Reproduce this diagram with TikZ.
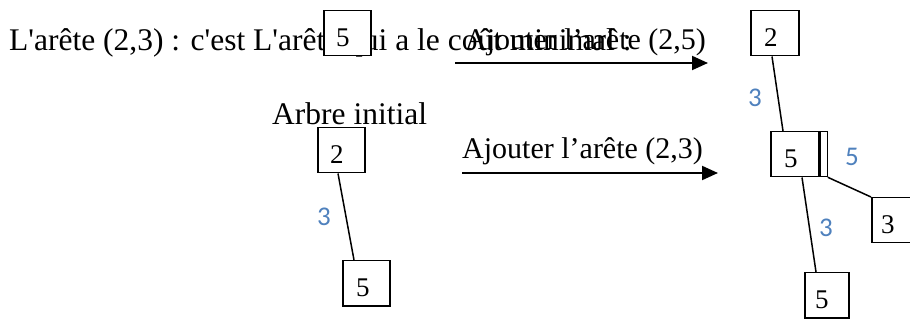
\documentclass[tikz,border=0pt]{standalone}
\usepackage{fontspec}
\setmainfont{Liberation Serif}[Ligatures=TeXOff]
\newfontfamily\calib{Carlito}
\usetikzlibrary{arrows.meta}
\definecolor{lblblue}{RGB}{79,129,189}
\begin{document}
\begin{tikzpicture}[x=1pt,y=-1pt,
  box/.style={draw, line width=1.5pt, fill=white, minimum width=#1, minimum height=45pt, inner sep=0pt, anchor=north west},
  box/.default=47pt,
  num/.style={font=\fontsize{27}{27}\selectfont, inner sep=0pt, anchor=base west},
  txt/.style={font=\fontsize{31.5}{36}\selectfont, inner sep=0pt, anchor=base west},
  lbl/.style={font=\fontsize{30}{36}\selectfont, inner sep=0pt, anchor=base west},
  wt/.style={font=\calib\fontsize{27}{27}\selectfont, text=lblblue, inner sep=0pt},
  edgeline/.style={line width=1.5pt},
  arr/.style={line width=2pt, -{Triangle[length=16pt,width=14pt]}}]
\useasboundingbox (0,0) rectangle (910,320);
\clip (0,0) rectangle (910,320);
% top sentence and arrow
\node[txt] (sent) at (9,51) {L'arête (2,3) : c'est L'arête qui a le coût minimal :};
\node[lbl] (lab1) at (465,50) {Ajouter l’arête (2,5)};
\coordinate (a1s) at (455,63);
\coordinate (a1e) at (708,63);
\draw[arr] (a1s) -- (a1e);
\node[box] (t5) at (323,10) {};
\node[num] (t5n) at ([shift={(13,-10)}]t5.south west) {5};
% initial tree
\node[txt] (arbre) at (272,125) {Arbre initial};
\node[box] (i2) at (317,127) {};
\node[num] (i2n) at ([shift={(13,-10)}]i2.south west) {2};
\node[box] (i5) at (342,260) {};
\node[num] (i5n) at ([shift={(14,-10)}]i5.south west) {5};
\draw[edgeline] ([xshift=21pt]i2.south west) -- ([xshift=12pt]i5.north west);
\node[wt] (w1) at (324,217) {3};
% middle arrow
\node[lbl] (lab2) at (462,159) {Ajouter l’arête (2,3)};
\coordinate (a2s) at (462,173);
\coordinate (a2e) at (718,173);
\draw[arr] (a2s) -- (a2e);
% resulting tree
\node[box=48pt] (r2) at (750,10) {};
\node[num] (r2n) at ([shift={(14,-10)}]r2.south west) {2};
\node[box=48pt] (r5) at (770,131) {};
\node[num] (r5n) at ([shift={(14,-10)}]r5.south west) {5};
\node[draw, line width=1.3pt, fill=white, minimum width=7pt, minimum height=45pt, inner sep=0pt, anchor=north west] (r5x) at (r5.north east) {};
\node[box] (r3) at (871,197) {};
\node[num] (r3n) at ([shift={(10,-10)}]r3.south west) {3};
\node[box=44pt] (b5) at (804,272) {};
\node[num] (b5n) at ([shift={(11,-10)}]b5.south west) {5};
\draw[edgeline] ([xshift=22pt]r2.south west) -- ([xshift=13pt]r5.north west);
\draw[edgeline] (r5x.south east) -- (r3.north west);
\draw[edgeline] ([xshift=32pt]r5.south west) -- ([xshift=12pt]b5.north west);
\node[wt] (w2) at (755,98) {3};
\node[wt] (w3) at (852,157) {5};
\node[wt] (w4) at (826,228) {3};
\end{tikzpicture}
\end{document}
